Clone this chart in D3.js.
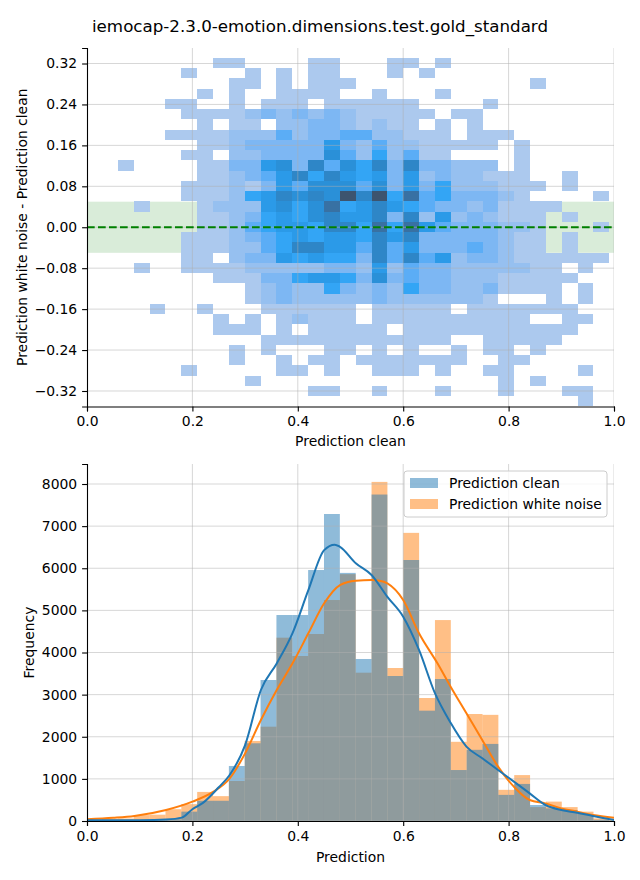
<!DOCTYPE html>
<html><head><meta charset="utf-8">
<script src="https://cdn.jsdelivr.net/npm/d3@7"></script>
<style>body{margin:0;background:#fff;} svg{display:block;font-family:"DejaVu Sans",sans-serif;}</style>
</head><body>
<svg id="chart" width="640" height="880"></svg>
<script>
// ---------------- data ----------------
const chartTitle = "iemocap-2.3.0-emotion.dimensions.test.gold_standard";
const xTickVals = [0, 0.2, 0.4, 0.6, 0.8, 1.0];
const topYTicks = [0.32, 0.24, 0.16, 0.08, 0, -0.08, -0.16, -0.24, -0.32];
const topYLimit = 0.3503;
const bandHalfWidth = 0.05;
// 2D histogram bins (x: Prediction clean, y: difference), rows from top
const heatBinX0 = -0.0015, heatBinW = 0.03008;
const heatBinYTop = 0.3312, heatBinH = 0.02003;
// cell count level per cell ('.' = empty, 1..9, A); columns 0-9 | 10-19 | 20-29 | 30-32
const heatRowParts = [
  ["........11", "....11...1", "1.1.......", "..."],
  ["......1...", "1.1.11...1", ".1........", "..."],
  [".........1", "1.1.111...", "........1.", "..."],
  [".......1.1", "..1111..1.", "..1.......", "..."],
  [".....11..1", ".111.11111", "1....1....", "..."],
  ["......1111", "2323232111", "11.11.....", "..."],
  [".......1.1", "1.22332121", "1.1.1.....", "..."],
  [".....11112", "2242334422", "111.111...", "..."],
  [".......112", "3333363242", "211111.1..", "..."],
  ["......11.2", "2333374252", "411....1..", "..."],
  ["..1....113", "3673847583", "833222.1..", "..."],
  [".......112", "3468586563", "62322111..", "1.."],
  ["......1112", "1364777473", "635222111.", "1.."],
  ["......1112", "568787A8A5", "94533321..", "..1"],
  ["...1...122", "2675795686", "5433231111", "..."],
  [".......112", "3565786683", "826232111.", "1.."],
  [".......112", "4566588595", "964333221.", "..1"],
  ["......1112", "3456566586", "833333211.", "1.."],
  ["......1112", "2458866484", "633343211.", "1.."],
  ["......11.2", "3365655384", "8462332111", "111"],
  ["...1..1111", "2222233262", "4332222211", ".1."],
  ["........11", "1335665373", "4332221111", "1.."],
  ["..........", "1232253232", "5332231111", ".1."],
  ["..........", "1232222232", "222221...1", ".1."],
  ["....1..1..", ".111111.11", "111.111111", "1.."],
  ["........1.", "1.12111.11", "11111111..", "11."],
  ["........11", "1.1.11111.", "1111111111", "1.."],
  ["..........", ".111111111", "111..11111", "..."],
  [".........1", ".1...11.1.", "1..1.11.1.", "..."],
  [".........1", "..1.11.111", "1111..11..", "..."],
  ["......1...", "..11.1..11", "1.1..11...", ".1."],
  ["..........", "1.........", "......1.1.", "..."],
  ["..........", "....11..1.", "..1...1...", "11."],
  ["..........", "..........", "..........", ".1."]
];
const heatRows = heatRowParts.map(p => p.join(""));
// counts for each level code 0..10
const heatLevelCounts = [0, 1, 2, 3, 4, 5, 6, 7, 8, 10, 13];
// 1D histograms (shared bins)
const histBinX0 = -0.0015, histBinW = 0.03008;
const histClean = [0, 0, 15, 25, 20, 40, 222, 480, 480, 1306, 1845, 3347, 4890, 4890, 5958, 7288, 5890, 3846, 7750, 3442, 6196, 2619, 3371, 1210, 1690, 1830, 620, 880, 380, 300, 260, 166, 30, 0];
const histNoise = [30, 50, 60, 140, 150, 280, 400, 690, 590, 950, 1900, 2239, 4352, 3917, 4439, 5246, 5860, 3521, 8050, 3632, 6840, 2920, 4770, 1880, 2540, 2520, 740, 1090, 330, 460, 330, 222, 63, 30];
const botYTicks = [0, 1000, 2000, 3000, 4000, 5000, 6000, 7000, 8000];
const botYMax = 8475;
// KDE curves
const kdeCleanX = [0, 0.05, 0.10, 0.15, 0.18, 0.20, 0.22, 0.25, 0.27, 0.30, 0.33, 0.36, 0.39, 0.42, 0.45, 0.47, 0.48, 0.51, 0.54, 0.57, 0.60, 0.63, 0.66, 0.69, 0.72, 0.75, 0.78, 0.81, 0.84, 0.87, 0.90, 0.93, 0.96, 1.00];
const kdeCleanY = [15, 15, 18, 35, 80, 280, 430, 800, 1080, 1800, 3110, 3740, 4460, 5480, 6430, 6560, 6510, 6120, 5840, 5320, 4850, 4060, 3040, 2330, 1765, 1490, 1210, 934, 657, 380, 261, 198, 119, 24];
const kdeNoiseX = [0, 0.05, 0.09, 0.15, 0.20, 0.24, 0.27, 0.30, 0.33, 0.36, 0.39, 0.42, 0.45, 0.48, 0.51, 0.54, 0.555, 0.57, 0.60, 0.63, 0.665, 0.69, 0.72, 0.75, 0.78, 0.81, 0.84, 0.87, 0.90, 0.93, 0.96, 1.00];
const kdeNoiseY = [40, 75, 119, 261, 459, 696, 1000, 1606, 2398, 3110, 3743, 4455, 5168, 5602, 5705, 5721, 5705, 5642, 5246, 4455, 3743, 3189, 2557, 1923, 1290, 815, 498, 419, 300, 222, 142, 79];
const seriesNames = ["Prediction clean", "Prediction white noise"];
const seriesColors = ["#1f77b4", "#ff7f0e"];

// ---------------- HUSL (HSLuv) helpers for the seaborn colormap ----------------
const M = [[3.240969941904521,-1.537383177570093,-0.498610760293],[-0.96924363628087,1.87596750150772,0.041555057407175],[0.055630079696993,-0.20397695888897,1.056971514242878]];
const MINV = [[0.41239079926595,0.35758433938387,0.18048078840183],[0.21263900587151,0.71516867876775,0.072192315360733],[0.019330818715591,0.11919477979462,0.95053215224966]];
const refU = 0.19783000664283, refV = 0.46831999493879, kappa = 903.2962962, eps = 0.0088564516;
function getBounds(L){const sub1=Math.pow(L+16,3)/1560896;const sub2=sub1>eps?sub1:L/kappa;const res=[];for(let c=0;c<3;c++){const [m1,m2,m3]=M[c];for(let t=0;t<2;t++){const top1=(284517*m1-94839*m3)*sub2;const top2=(838422*m3+769860*m2+731718*m1)*L*sub2-769860*t*L;const bottom=(632260*m3-126452*m2)*sub2+126452*t;res.push([top1/bottom,top2/bottom]);}}return res;}
function maxChroma(L,H){const hr=H/360*2*Math.PI;let mn=Infinity;for(const [s,i] of getBounds(L)){const len=i/(Math.sin(hr)-s*Math.cos(hr));if(len>=0)mn=Math.min(mn,len);}return mn;}
const fromLin=c=>c<=0.0031308?12.92*c:1.055*Math.pow(c,1/2.4)-0.055;
const toLin=c=>c>0.04045?Math.pow((c+0.055)/1.055,2.4):c/12.92;
function huslToRgb(H,S,L){if(L>99.9999999)return[1,1,1];if(L<1e-8)return[0,0,0];const C=maxChroma(L,H)/100*S;const hr=H/360*2*Math.PI;const U=Math.cos(hr)*C,V=Math.sin(hr)*C;const Y=L>8?Math.pow((L+16)/116,3):L/kappa;const vu=U/(13*L)+refU,vv=V/(13*L)+refV;const X=0-(9*Y*vu)/((vu-4)*vv-vu*vv);const Z=(9*Y-15*vv*Y-vv*X)/(3*vv);return M.map(r=>fromLin(r[0]*X+r[1]*Y+r[2]*Z));}
function rgbToHusl(r,g,b){const l=[r,g,b].map(toLin);const [X,Y,Z]=MINV.map(m=>m[0]*l[0]+m[1]*l[1]+m[2]*l[2]);const L=Y<=eps?Y*kappa:116*Math.cbrt(Y)-16;const d=X+15*Y+3*Z;const U=13*L*(4*X/d-refU),V=13*L*(9*Y/d-refV);const C=Math.hypot(U,V);let H=Math.atan2(V,U)*180/Math.PI;if(H<0)H+=360;return[H,C/maxChroma(L,H)*100,L];}
const baseRgb = d3.rgb(seriesColors[0]);
const [baseH, baseS] = rgbToHusl(baseRgb.r/255, baseRgb.g/255, baseRgb.b/255);
const nRamp = Math.floor(1.15*256);
function heatColor(t){
  const idx = Math.max(0, Math.min(255, Math.floor(t*256)));
  const i = 255 - idx;
  const xx = -1 + i*2/(nRamp-1);
  const rgb = huslToRgb(baseH, baseS*Math.cos(xx), 35 + 45*i/255).map(v=>Math.max(0,Math.min(1,v)));
  return d3.rgb(rgb[0]*255, rgb[1]*255, rgb[2]*255).formatHex();
}

// ---------------- drawing ----------------
const svg = d3.select("#chart");
const FS = 13.9;
const gridStyle = sel => sel.attr("stroke","#b0b0b0").attr("stroke-opacity",0.5).attr("stroke-width",1);

svg.append("text").attr("x",320).attr("y",32).attr("text-anchor","middle")
  .attr("font-size",16.7).attr("fill","#000").text(chartTitle);

function styleAxis(g){
  g.selectAll("path.domain").attr("stroke","#000").attr("stroke-width",1.1);
  g.selectAll(".tick line").attr("stroke","#000").attr("stroke-width",1.1);
  g.selectAll(".tick text").attr("font-size",FS).attr("font-family","DejaVu Sans").attr("fill","#000");
}

// ===== top panel =====
const tp = {left:87, right:614, top:48, bottom:406.5};
const xTop = d3.scaleLinear().domain([0,1]).range([tp.left,tp.right]);
const yTop = d3.scaleLinear().domain([-topYLimit, topYLimit]).range([tp.bottom,tp.top]);
const defs = svg.append("defs");
defs.append("clipPath").attr("id","clipTop").append("rect")
  .attr("x",tp.left).attr("y",tp.top).attr("width",tp.right-tp.left).attr("height",tp.bottom-tp.top);
const gTop = svg.append("g").attr("clip-path","url(#clipTop)");

gTop.append("rect").attr("x",tp.left).attr("width",tp.right-tp.left)
  .attr("y",yTop(bandHalfWidth)).attr("height",yTop(-bandHalfWidth)-yTop(bandHalfWidth))
  .attr("fill","green").attr("fill-opacity",0.15);

const cells = [];
heatRows.forEach((row,j)=>{
  for(let k=0;k<row.length;k++){
    const ch = row[k];
    if(ch===".") continue;
    cells.push({k,j,v:heatLevelCounts[parseInt(ch,16)]});
  }
});
const vMin = d3.min(cells,d=>d.v), vMax = d3.max(cells,d=>d.v);
gTop.append("g").attr("shape-rendering","crispEdges").selectAll("rect").data(cells).join("rect")
  .attr("x",d=>xTop(heatBinX0+d.k*heatBinW))
  .attr("width",d=>xTop(heatBinX0+(d.k+1)*heatBinW)-xTop(heatBinX0+d.k*heatBinW))
  .attr("y",d=>yTop(heatBinYTop-d.j*heatBinH))
  .attr("height",d=>yTop(heatBinYTop-(d.j+1)*heatBinH)-yTop(heatBinYTop-d.j*heatBinH))
  .attr("fill",d=>heatColor((d.v-vMin)/(vMax-vMin)));

// grid
gTop.append("g").selectAll("line").data(xTickVals).join("line")
  .attr("x1",d=>xTop(d)).attr("x2",d=>xTop(d)).attr("y1",tp.top).attr("y2",tp.bottom).call(gridStyle);
gTop.append("g").selectAll("line").data(topYTicks).join("line")
  .attr("y1",d=>yTop(d)).attr("y2",d=>yTop(d)).attr("x1",tp.left).attr("x2",tp.right).call(gridStyle);

gTop.append("line").attr("x1",tp.left).attr("x2",tp.right).attr("y1",yTop(0)).attr("y2",yTop(0))
  .attr("stroke","green").attr("stroke-width",2).attr("stroke-dasharray","7.7,3.3");

svg.append("g").attr("transform",`translate(0,${tp.bottom})`)
  .call(d3.axisBottom(xTop).tickValues(xTickVals).tickFormat(d3.format(".1f")).tickSizeOuter(0).tickSize(4.9).tickPadding(4.9))
  .call(styleAxis);
svg.append("g").attr("transform",`translate(${tp.left},0)`)
  .call(d3.axisLeft(yTop).tickValues(topYTicks).tickFormat(d3.format(".2f")).tickSizeOuter(0).tickSize(4.9).tickPadding(4.9))
  .call(styleAxis);
svg.append("text").attr("x",(tp.left+tp.right)/2).attr("y",446).attr("text-anchor","middle")
  .attr("font-size",FS).text("Prediction clean");
svg.append("text").attr("transform",`translate(27,${(tp.top+tp.bottom)/2}) rotate(-90)`).attr("text-anchor","middle")
  .attr("font-size",FS).text("Prediction white noise - Prediction clean");

// ===== bottom panel =====
const bp = {left:87, right:614, top:464, bottom:821};
const xBot = d3.scaleLinear().domain([0,1]).range([bp.left,bp.right]);
const yBot = d3.scaleLinear().domain([0,botYMax]).range([bp.bottom,bp.top]);
defs.append("clipPath").attr("id","clipBot").append("rect")
  .attr("x",bp.left).attr("y",bp.top).attr("width",bp.right-bp.left).attr("height",bp.bottom-bp.top);
const gBot = svg.append("g").attr("clip-path","url(#clipBot)");

function drawBars(values, color){
  gBot.append("g").selectAll("rect").data(values).join("rect")
    .attr("x",(d,i)=>xBot(histBinX0+i*histBinW))
    .attr("width",(d,i)=>xBot(histBinX0+(i+1)*histBinW)-xBot(histBinX0+i*histBinW))
    .attr("y",d=>yBot(d)).attr("height",d=>yBot(0)-yBot(d))
    .attr("fill",color).attr("fill-opacity",0.5);
}
drawBars(histNoise, seriesColors[1]);
drawBars(histClean, seriesColors[0]);

gBot.append("g").selectAll("line").data(xTickVals).join("line")
  .attr("x1",d=>xBot(d)).attr("x2",d=>xBot(d)).attr("y1",bp.top).attr("y2",bp.bottom).call(gridStyle);
gBot.append("g").selectAll("line").data(botYTicks).join("line")
  .attr("y1",d=>yBot(d)).attr("y2",d=>yBot(d)).attr("x1",bp.left).attr("x2",bp.right).call(gridStyle);

const lineGen = d3.line().x(d=>xBot(d[0])).y(d=>yBot(d[1])).curve(d3.curveMonotoneX);
gBot.append("path").datum(d3.zip(kdeNoiseX,kdeNoiseY)).attr("d",lineGen)
  .attr("fill","none").attr("stroke",seriesColors[1]).attr("stroke-width",2);
gBot.append("path").datum(d3.zip(kdeCleanX,kdeCleanY)).attr("d",lineGen)
  .attr("fill","none").attr("stroke",seriesColors[0]).attr("stroke-width",2);

svg.append("g").attr("transform",`translate(0,${bp.bottom})`)
  .call(d3.axisBottom(xBot).tickValues(xTickVals).tickFormat(d3.format(".1f")).tickSizeOuter(0).tickSize(4.9).tickPadding(4.9))
  .call(styleAxis);
svg.append("g").attr("transform",`translate(${bp.left},0)`)
  .call(d3.axisLeft(yBot).tickValues(botYTicks).tickFormat(d3.format("d")).tickSizeOuter(0).tickSize(4.9).tickPadding(4.9))
  .call(styleAxis);
svg.append("text").attr("x",(bp.left+bp.right)/2).attr("y",862).attr("text-anchor","middle")
  .attr("font-size",FS).text("Prediction");
svg.append("text").attr("transform",`translate(34,${(bp.top+bp.bottom)/2}) rotate(-90)`).attr("text-anchor","middle")
  .attr("font-size",FS).text("Frequency");

// legend
const lg = svg.append("g");
lg.append("rect").attr("x",404).attr("y",471).attr("width",203).attr("height",46)
  .attr("rx",3).attr("fill","#fff").attr("fill-opacity",0.8).attr("stroke","#cccccc").attr("stroke-width",1);
seriesNames.forEach((name,i)=>{
  const cy = 483 + i*21;
  lg.append("rect").attr("x",410).attr("y",cy-5).attr("width",28).attr("height",10)
    .attr("fill",seriesColors[i]).attr("fill-opacity",0.5);
  lg.append("text").attr("x",449).attr("y",cy+5).attr("font-size",FS).text(name);
});
</script>
</body></html>
